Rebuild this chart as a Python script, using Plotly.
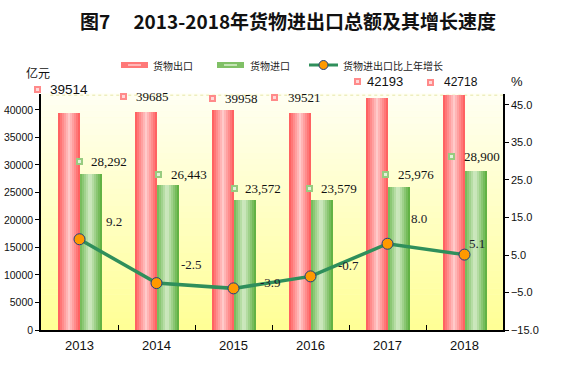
import plotly.graph_objects as go

# ---------------- data ----------------
years = ["2013", "2014", "2015", "2016", "2017", "2018"]
exports = [39514, 39685, 39958, 39521, 42193, 42718]
imports = [28292, 26443, 23572, 23579, 25976, 28900]
growth = [9.2, -2.5, -3.9, -0.7, 8.0, 5.1]

title_text = "图7\u3000 2013-2018年货物进出口总额及其增长速度"
legend_names = ["货物出口", "货物进口", "货物进出口比上年增长"]

# ---------------- layout geometry (pixels) ----------------
W, H = 577, 372
L, R, T, B = 41, 503, 94, 330
Y1_MAX = 42900
Y2_MIN, Y2_MAX = -15, 47.93

def px(xp):
    return (xp - L) / (R - L)

def py(yp):
    return (B - yp) / (B - T)

# label offsets (pixels) relative to the mark: (icon centre dx, text dx, dy)
exp_off = [(-42, -31, -23), (-33, -22, -15), (-21, -10, -12), (-36, -24, -14.6), (-30, -22, -16), (-34, -22, -13)]
exp_font = ["Liberation Sans", "Liberation Serif", "Liberation Serif", "Liberation Serif", "Liberation Sans", "Liberation Sans"]
exp_size = [13.5, 13, 13, 13, 13, 12]
imp_off = [(0, 10, -12.4), (2, 13, -9.6), (0.5, 10, -11.4), (-1.5, 9, -11.3), (-2, 9, -13), (-13.5, -2, -14.3)]
gr_off = [(25, -17.5), (23, -19), (25, -5.4), (26, -10.4), (22, -25.7), (3, -11.6)]

RED = (255, 88, 88)
RED_HI = (255, 222, 222)
GREEN = (98, 178, 68)
GREEN_HI = (232, 246, 222)
LINE_COL = "#2F8F5B"
MARK_COL = "#FF9900"
MARK_EDGE = "#1F3F7F"

def mix(a, b, f):
    return "rgb(%d,%d,%d)" % tuple(round(a[i] + (b[i] - a[i]) * f) for i in range(3))

fig = go.Figure()

# gradient bars as thin strips
bw = 22 / 77
N = 11
for series, base, hi, start, peak in [(exports, RED, RED_HI, -bw, 0.5), (imports, GREEN, GREEN_HI, 0.0, 0.45)]:
    for k in range(N):
        t = (k + 0.5) / N
        f = max(0.0, 1 - abs(t - peak) / 0.5) * 0.85
        fig.add_trace(go.Bar(
            x=years, y=series, width=bw / N + 0.002, offset=start + k * bw / N,
            marker=dict(color=mix(base, hi, f), line=dict(width=0)),
            showlegend=False, hoverinfo="skip",
        ))

fig.add_trace(go.Scatter(
    x=years, y=growth, yaxis="y2", mode="lines+markers",
    line=dict(color=LINE_COL, width=3.5),
    marker=dict(size=11, color=MARK_COL, line=dict(color=MARK_EDGE, width=1)),
    showlegend=False, hoverinfo="skip",
))

shapes = []
annotations = []

# plot background gradient
NB = 40
for i in range(NB):
    f = i / (NB - 1)
    shapes.append(dict(type="rect", xref="paper", yref="paper", x0=0, x1=1,
                       y0=i / NB, y1=(i + 1) / NB + 0.002, layer="below",
                       line=dict(width=0), fillcolor=mix((255, 255, 150), (255, 255, 242), f)))
shapes.append(dict(type="line", xref="paper", yref="paper", x0=0.02, x1=1, y0=0.995, y1=0.995,
                   line=dict(color="#E6E6A8", width=1, dash="dot"), layer="below"))

def icon(xi, yv, dx, dy, yref, outer, inner):
    annotations.append(dict(x=xi, y=yv, xref="x", yref=yref, text=" ", showarrow=False,
                            xanchor="center", yanchor="middle", xshift=dx, yshift=-dy,
                            width=3, height=3, borderpad=0, borderwidth=2,
                            bgcolor=inner, bordercolor=outer, font=dict(size=1)))

for i, v in enumerate(exports):
    dxi, dxt, dy = exp_off[i]
    icon(i, v, dxi, dy, "y", "#FF8A8A", "#FFD8D8")
    annotations.append(dict(x=i, y=v, xref="x", yref="y", text=str(v), showarrow=False,
                            xanchor="left", yanchor="middle", xshift=dxt - 1, yshift=-dy,
                            font=dict(family=exp_font[i], size=exp_size[i], color="#111111")))

for i, v in enumerate(imports):
    dxi, dxt, dy = imp_off[i]
    icon(i, v, dxi, dy, "y", "#98CC80", "#E4F2DA")
    annotations.append(dict(x=i, y=v, xref="x", yref="y", text=f"{v:,}", showarrow=False,
                            xanchor="left", yanchor="middle", xshift=dxt - 1, yshift=-dy,
                            font=dict(family="Liberation Serif", size=13, color="#111111")))

for i, v in enumerate(growth):
    dxt, dy = gr_off[i]
    annotations.append(dict(x=i, y=v, xref="x", yref="y2", text=f"{v:.1f}", showarrow=False,
                            xanchor="left", yanchor="middle", xshift=dxt - 1, yshift=-dy,
                            font=dict(family="Liberation Serif", size=13, color="#1a1a2a")))

# custom legend
LY = 65
shapes.append(dict(type="rect", xref="paper", yref="paper", x0=px(121), x1=px(148), y0=py(68), y1=py(62),
                   fillcolor="#FF7878", line=dict(width=0)))
shapes.append(dict(type="rect", xref="paper", yref="paper", x0=px(128), x1=px(141), y0=py(66), y1=py(64),
                   fillcolor="#FFB8B8", line=dict(width=0)))
shapes.append(dict(type="rect", xref="paper", yref="paper", x0=px(217), x1=px(244), y0=py(68), y1=py(62),
                   fillcolor="#80C066", line=dict(width=0)))
shapes.append(dict(type="rect", xref="paper", yref="paper", x0=px(224), x1=px(237), y0=py(66), y1=py(64),
                   fillcolor="#C4E4B4", line=dict(width=0)))
shapes.append(dict(type="line", xref="paper", yref="paper", x0=px(309), x1=px(338), y0=py(LY), y1=py(LY),
                   line=dict(color=LINE_COL, width=3)))
shapes.append(dict(type="circle", xref="paper", yref="paper", x0=px(319), x1=px(328), y0=py(LY + 4.5), y1=py(LY - 4.5),
                   fillcolor=MARK_COL, line=dict(color=MARK_EDGE, width=1)))
for name, xl in zip(legend_names, [151, 248, 341]):
    annotations.append(dict(x=px(xl), y=py(LY), xref="paper", yref="paper", text=name, showarrow=False,
                            xanchor="left", yanchor="middle",
                            font=dict(family="Noto Sans CJK SC", size=10, color="#222222")))

annotations.append(dict(x=px(38), y=py(72), xref="paper", yref="paper", text="亿元", showarrow=False,
                        xanchor="center", yanchor="middle",
                        font=dict(family="Noto Sans CJK SC", size=12, color="#111111")))
annotations.append(dict(x=px(517), y=py(82), xref="paper", yref="paper", text="%", showarrow=False,
                        xanchor="center", yanchor="middle",
                        font=dict(family="Liberation Sans", size=13, color="#111111")))

fig.update_layout(
    width=W, height=H,
    margin=dict(l=L, r=W - R, t=T, b=H - B, pad=0, autoexpand=False),
    paper_bgcolor="white", plot_bgcolor="#FFFFCC",
    barmode="overlay", bargap=0,
    showlegend=False,
    title=dict(text=title_text, x=288 / W, xref="container", xanchor="center",
               y=1 - 22 / H, yref="container", yanchor="middle",
               font=dict(family="Noto Sans CJK SC", size=19, color="#111111", weight="bold")),
    xaxis=dict(type="category", range=[-0.5, 5.5], showline=True, linecolor="black", linewidth=1.5,
               ticks="inside", tickson="boundaries", ticklen=5, tickcolor="black", showgrid=False,
               automargin=False, ticklabelstandoff=3,
               tickfont=dict(family="Liberation Sans", size=13, color="#111111")),
    yaxis=dict(range=[0, Y1_MAX], tickvals=list(range(0, 40001, 5000)), tickformat="d", showline=True,
               linecolor="black", linewidth=1.5, ticks="outside", ticklen=4, tickcolor="black",
               showgrid=False, zeroline=False, automargin=False,
               tickfont=dict(family="Liberation Sans", size=10.5, color="#111111")),
    yaxis2=dict(overlaying="y", side="right", range=[Y2_MIN, Y2_MAX], tickvals=[-15, -5, 5, 15, 25, 35, 45],
                tickformat=".1f", showline=True, linecolor="black", linewidth=1.5, ticks="outside", ticklen=4,
                tickcolor="black", showgrid=False, zeroline=False, automargin=False,
                tickfont=dict(family="Liberation Sans", size=11, color="#111111")),
    shapes=shapes, annotations=annotations,
)

fig.write_html("out.html", config={"displayModeBar": False},
               post_script="document.body.style.margin='0px';document.documentElement.style.overflow='hidden';")
